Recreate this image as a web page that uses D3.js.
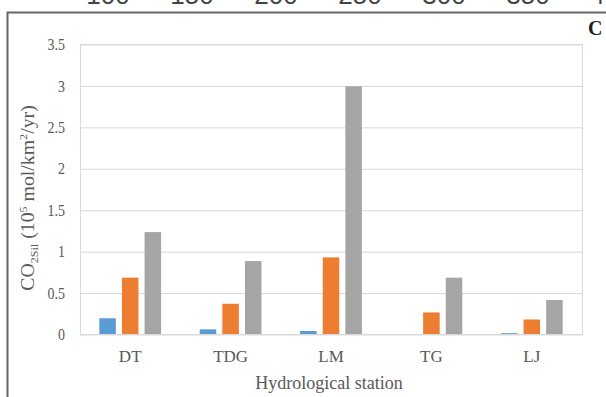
<!DOCTYPE html>
<html>
<head>
<meta charset="utf-8">
<script src="https://cdn.jsdelivr.net/npm/d3@7"></script>
<style>
  body { margin: 0; background: #fff; }
  svg { display: block; }
  .tick text { font-family: "Liberation Serif", "Times New Roman", serif; fill: #595959; }
</style>
</head>
<body>
<div id="chart"></div>
<script>
// stations and the three series (10^5 mol/km2/yr)
const stations = ['DT', 'TDG', 'LM', 'TG', 'LJ'];
const series = ['s1', 's2', 's3'];
const s1 = [0.19, 0.056, 0.036, 0, 0.01];
const s2 = [0.68, 0.365, 0.925, 0.26, 0.175];
const s3 = [1.23, 0.88, 2.99, 0.68, 0.41];
const yTicks = [0, 0.5, 1, 1.5, 2, 2.5, 3, 3.5];
// axis of the panel above, cut off by the crop
const topTicks = [100, 150, 200, 250, 300, 350, 400];

const colors = ['#5b9bd5', '#ed7d31', '#a5a5a5'];
const width = 606, height = 397;
const m = {left: 80, right: 582, top: 44, bottom: 334};

const rows = stations.map((s, i) => ({station: s, values: [s1[i], s2[i], s3[i]]}));

const svg = d3.select('#chart').append('svg')
  .attr('width', width).attr('height', height);

// fragment of the upper panel's axis
let xTop = d3.scaleLinear().domain([150, 400]).range([192, 612]);
svg.append('g').selectAll('text')
  .data(topTicks)
  .join('text')
  .attr('x', d => xTop(d))
  .attr('y', 4)
  .attr('text-anchor', 'middle')
  .style('font-family', '"Liberation Sans", Arial, sans-serif')
  .style('font-size', '26px')
  .style('fill', '#444')
  .text(d => d);

// panel frame
svg.append('path')
  .attr('d', `M7.5,${height} V12.5 H${width}`)
  .attr('fill', 'none')
  .attr('stroke', '#666')
  .attr('stroke-width', 2);

svg.append('text')
  .attr('x', 588).attr('y', 35)
  .style('font-family', '"Liberation Serif", "Times New Roman", serif')
  .style('font-weight', 'bold')
  .style('font-size', '20px')
  .style('fill', '#222')
  .text('C');

let y = d3.scaleLinear().domain([0, 3.5]).range([m.bottom, m.top]);
let x0 = d3.scaleBand().domain(stations).range([m.left, m.right]).paddingInner(0.385).paddingOuter(0.1925);
let x1 = d3.scaleBand().domain(series).range([0, x0.bandwidth()]).paddingInner(0.27);

// plot area border
svg.append('rect')
  .attr('x', m.left + 0.5).attr('y', m.top + 0.5)
  .attr('width', m.right - m.left).attr('height', m.bottom - m.top)
  .attr('fill', 'none').attr('stroke', '#d9d9d9');

// gridlines + y labels
let yAxis = svg.append('g')
  .attr('transform', `translate(${m.left},0)`)
  .call(d3.axisLeft(y).tickValues(yTicks).tickFormat(d3.format('')).tickSize(-(m.right - m.left)).tickPadding(15));
yAxis.select('.domain').remove();
yAxis.selectAll('.tick line').attr('stroke', '#d9d9d9').attr('transform', 'translate(0,0.5)');
yAxis.selectAll('.tick text').style('font-size', '14px')
  .attr('transform', 'scale(1,1.12)').attr('y', 0.5);

// bars
svg.append('g').selectAll('g')
  .data(rows)
  .join('g')
  .attr('transform', d => `translate(${x0(d.station)},0)`)
  .selectAll('rect')
  .data(d => d.values.map((v, k) => ({key: series[k], v: v, k: k})))
  .join('rect')
  .attr('x', d => x1(d.key))
  .attr('y', d => y(d.v))
  .attr('width', x1.bandwidth())
  .attr('height', d => y(0) - y(d.v))
  .attr('fill', d => colors[d.k]);

// x axis
let xAxis = svg.append('g')
  .attr('transform', `translate(0,${m.bottom})`)
  .call(d3.axisBottom(x0).tickSize(0).tickPadding(16));
xAxis.select('.domain').attr('stroke', '#d9d9d9').attr('d', `M${m.left},0.5H${m.right}`);
xAxis.selectAll('.tick text').style('font-size', '17px');

svg.append('text')
  .attr('x', (m.left + m.right) / 2 - 2)
  .attr('y', 389)
  .attr('text-anchor', 'middle')
  .style('font-family', '"Liberation Serif", "Times New Roman", serif')
  .style('font-size', '18px')
  .style('fill', '#595959')
  .text('Hydrological station');

// y title with sub/superscripts
let yt = svg.append('text')
  .attr('transform', `translate(34,198) rotate(-90) scale(1.1,1)`)
  .attr('text-anchor', 'middle')
  .style('font-family', '"Liberation Serif", "Times New Roman", serif')
  .style('font-size', '18px')
  .style('fill', '#595959');
yt.append('tspan').text('CO');
yt.append('tspan').attr('dy', 4).style('font-size', '11px').text('2Sil');
yt.append('tspan').attr('dy', -4).text(' (10');
yt.append('tspan').attr('dy', -7).style('font-size', '11px').text('5');
yt.append('tspan').attr('dy', 7).text(' mol/km');
yt.append('tspan').attr('dy', -7).style('font-size', '11px').text('2');
yt.append('tspan').attr('dy', 7).text('/yr)');
</script>
</body>
</html>
